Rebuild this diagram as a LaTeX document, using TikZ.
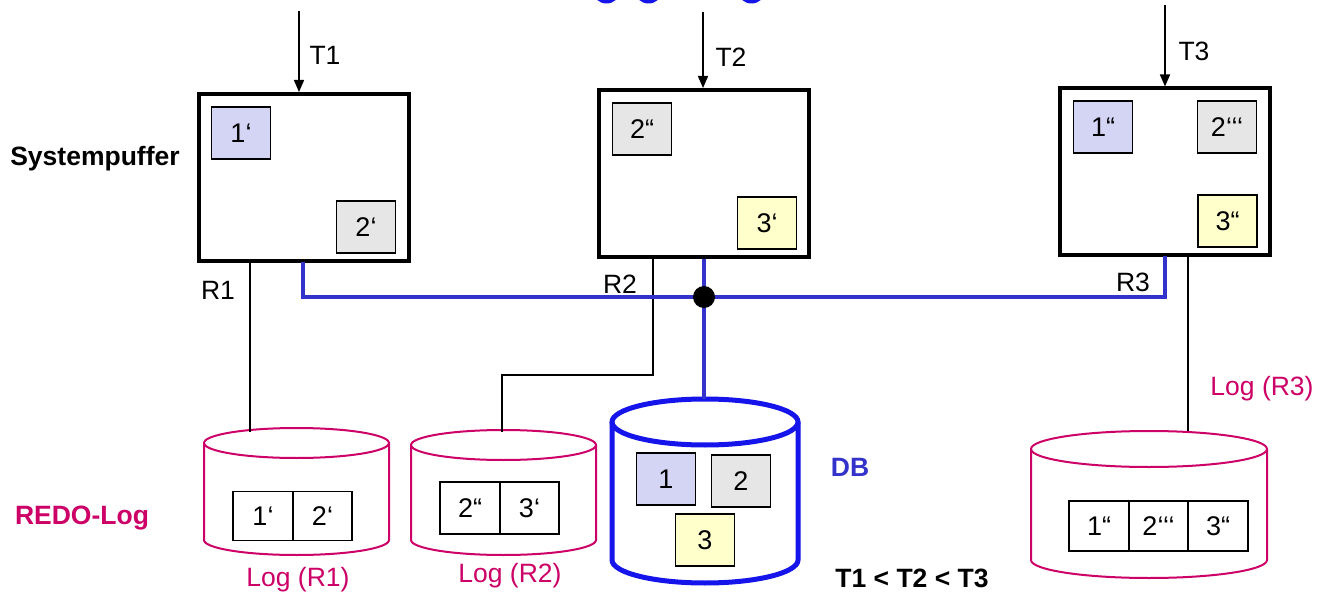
\documentclass[tikz,border=0pt]{standalone}
\usepackage{fontspec}
\setmainfont{Liberation Sans}
\usetikzlibrary{arrows.meta}
\definecolor{lav}{RGB}{212,212,245}
\definecolor{lgray}{RGB}{230,230,230}
\definecolor{lyel}{RGB}{255,255,204}
\definecolor{mag}{RGB}{204,0,102}
\definecolor{bline}{RGB}{51,51,204}
\definecolor{dbblue}{RGB}{20,20,235}
\tikzset{
  bufbox/.style={draw=black, line width=4pt, minimum width=210pt, minimum height=167pt, inner sep=0pt},
  page/.style={draw=black, line width=1.5pt, minimum width=59pt, minimum height=52pt, inner sep=0pt, font=\fontsize{27}{31}\selectfont},
  logcell/.style={draw=black, line width=1.8pt, minimum width=59.5pt, minimum height=49pt, inner sep=0pt, font=\fontsize{27}{31}\selectfont},
  lbl/.style={inner sep=0pt, font=\fontsize{26.5}{31}\selectfont},
  blbl/.style={inner sep=0pt, font=\fontsize{26.5}{31}\selectfont\bfseries},
  tarrow/.style={draw=black, line width=1.5pt, -{Triangle[width=10pt,length=12pt]}},
  thin/.style={draw=black, line width=2pt},
  bus/.style={draw=bline, line width=4pt},
  logcyl/.style={draw=mag, line width=2pt},
  dbcyl/.style={draw=dbblue, line width=5pt}
}
\begin{document}
\begin{tikzpicture}[x=1pt,y=-1pt]
\useasboundingbox (0,0) rectangle (1342,596);
% cut-off title remnants
\begin{scope}
\clip (0,0) rectangle (1342,596);
\fill[dbblue] (606.5,-9) ellipse[x radius=13.5, y radius=12.5];
\fill[dbblue] (648.5,-9) ellipse[x radius=13.5, y radius=12.5];
\fill[dbblue] (751.5,-9) ellipse[x radius=13.5, y radius=12.5];
\end{scope}

% buffer boxes
\node[bufbox] (B1) at (303.5,177.5) {};
\node[bufbox] (B2) at (704,173.5) {};
\node[bufbox] (B3) at (1165,172) {};

\node[page, fill=lav]   (p1a) at (241,133) {1‘};
\node[page, fill=lgray] (p2a) at (366,227) {2‘};
\node[page, fill=lgray] (p2b) at (642,129) {2“};
\node[page, fill=lyel]  (p3a) at (767,223) {3‘};
\node[page, fill=lav]   (p1b) at (1103,127) {1“};
\node[page, fill=lgray] (p2c) at (1227,127) {2‘‘‘};
\node[page, fill=lyel]  (p3b) at (1227.5,221) {3“};

% transaction arrows
\coordinate (t1s) at (299,11);
\coordinate (t2s) at (703,12);
\coordinate (t3s) at (1165,5);
\draw[tarrow] (t1s) -- (t1s |- B1.north);
\draw[tarrow] (t2s) -- (t2s |- B2.north);
\draw[tarrow] (t3s) -- (t3s |- B3.north);
\node[lbl] (T1) at (325,55) {T1};
\node[lbl] (T2) at (731,57) {T2};
\node[lbl] (T3) at (1194,51) {T3};

% labels
\node[blbl] (sp) at (95,159) {Systempuffer};
\node[blbl, text=mag] (redo) at (82,518) {REDO-Log};
\node[blbl, text=bline] (dbl) at (850,467) {DB};
\node[blbl] (ord) at (912,578) {T1 < T2 < T3};
\node[lbl] (R1) at (218,290) {R1};
\node[lbl] (R2) at (620,284) {R2};
\node[lbl] (R3) at (1133,282) {R3};
\node[lbl, text=mag] (L1) at (298,580) {Log (R1)};
\node[lbl, text=mag] (L2) at (510,576) {Log (R2)};
\node[lbl, text=mag] (L3) at (1262,389) {Log (R3)};

% log cylinders
\draw[logcyl, fill=white] (204,443) -- (204,540) arc[start angle=180, end angle=0, x radius=92.5, y radius=15] -- (389,443);
\draw[logcyl] (296.5,443) ellipse[x radius=92.5, y radius=15];
\draw[logcyl, fill=white] (411,445) -- (411,540) arc[start angle=180, end angle=0, x radius=92.5, y radius=15] -- (596,445);
\draw[logcyl] (503.5,445) ellipse[x radius=92.5, y radius=15];
\draw[logcyl, fill=white] (1031,449) -- (1031,560) arc[start angle=180, end angle=0, x radius=118, y radius=18] -- (1267,449);
\draw[logcyl] (1149,449) ellipse[x radius=118, y radius=18];

\node[logcell] (c11) at (263,516) {1‘};
\node[logcell] (c12) at (322.5,516) {2‘};
\node[logcell, minimum height=52pt] (c21) at (470,508) {2“};
\node[logcell, minimum height=52pt] (c22) at (529.5,508) {3‘};
\node[logcell, minimum height=50pt] (c31) at (1099,526) {1“};
\node[logcell, minimum height=50pt] (c32) at (1158.5,526) {2‘‘‘};
\node[logcell, minimum height=50pt] (c33) at (1218,526) {3“};

% DB cylinder
\draw[dbcyl, fill=white] (612,422) -- (612,560) arc[start angle=180, end angle=0, x radius=93, y radius=23] -- (798,422);
\draw[dbcyl] (705,422) ellipse[x radius=93, y radius=23];
\coordinate (dbtop) at (704,399);
\node[page, fill=lav]   (d1) at (666,479) {1};
\node[page, fill=lgray] (d2) at (741,481) {2};
\node[page, fill=lyel]  (d3) at (705,540) {3};

% connector coordinates
\coordinate (log1top) at (250,432);
\coordinate (log2top) at (502,432);
\coordinate (log3top) at (1188,431);
\coordinate (junc) at (704,297);

% black log connectors
\draw[thin] (B1.south -| log1top) -- (log1top);
\draw[thin] (653,258) -- (653,375) -- (502,375) -- (log2top);
\draw[thin] (B3.south -| log3top) -- (log3top);

% blue bus
\draw[bus] (303,262) |- (junc) -| (1165,256);
\draw[bus] (B2.south) -- (dbtop);
\fill[black] (junc) circle[radius=11];
\end{tikzpicture}
\end{document}
